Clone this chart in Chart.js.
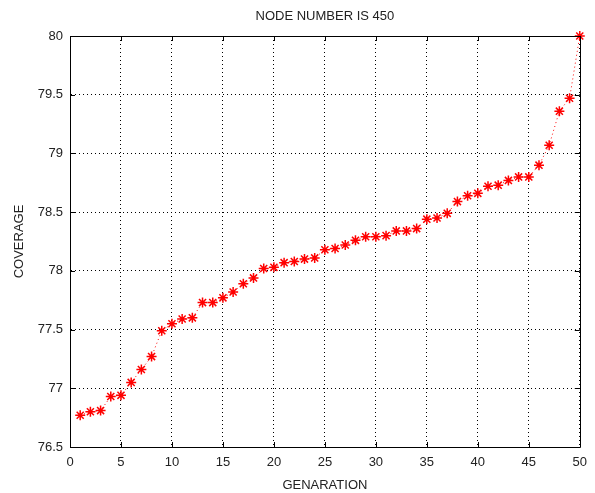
<!DOCTYPE html>
<html>
<head>
<meta charset="utf-8">
<script src="https://cdn.jsdelivr.net/npm/chart.js@4.4.1/dist/chart.umd.min.js"></script>
<style>
  html, body { margin: 0; padding: 0; background: #fff; }
  #wrap { width: 595px; height: 493px; }
</style>
</head>
<body>
<div id="wrap"><canvas id="c" width="595" height="493"></canvas></div>
<script>
const chartTitle = 'NODE NUMBER IS 450';
const xAxisTitle = 'GENARATION';
const yAxisTitle = 'COVERAGE';
const generations = [1,2,3,4,5,6,7,8,9,10,11,12,13,14,15,16,17,18,19,20,21,22,23,24,25,26,27,28,29,30,31,32,33,34,35,36,37,38,39,40,41,42,43,44,45,46,47,48,49,50];
const coverage = [76.77,76.80,76.81,76.93,76.94,77.05,77.16,77.27,77.49,77.55,
                  77.59,77.60,77.73,77.73,77.77,77.82,77.89,77.94,78.02,78.03,
                  78.07,78.08,78.10,78.11,78.18,78.19,78.22,78.26,78.29,78.29,
                  78.30,78.34,78.34,78.36,78.44,78.45,78.49,78.59,78.64,78.66,
                  78.72,78.73,78.77,78.80,78.80,78.90,79.07,79.36,79.47,80.00];
const xTickValues = [0,5,10,15,20,25,30,35,40,45,50];
const yTickValues = [76.5,77,77.5,78,78.5,79,79.5,80];

const points = generations.map((g, i) => ({ x: g, y: coverage[i] }));
const FONT = 'Liberation Sans, Arial, sans-serif';
const TEXT = '#222';

const boxTicks = {
  id: 'boxTicks',
  afterDraw(chart) {
    const { ctx, chartArea: a, scales: { x, y } } = chart;
    ctx.save();
    ctx.strokeStyle = '#000';
    ctx.lineWidth = 1;
    ctx.beginPath();
    ctx.rect(Math.round(a.left) + 0.5, Math.round(a.top) + 0.5,
             Math.round(a.right - a.left), Math.round(a.bottom - a.top));
    ctx.stroke();
    const L = 5;
    ctx.beginPath();
    x.ticks.forEach(t => {
      const px = Math.round(x.getPixelForValue(t.value)) + 0.5;
      ctx.moveTo(px, a.bottom); ctx.lineTo(px, a.bottom - L);
      ctx.moveTo(px, a.top); ctx.lineTo(px, a.top + L);
    });
    y.ticks.forEach(t => {
      const py = Math.round(y.getPixelForValue(t.value)) + 0.5;
      ctx.moveTo(a.left, py); ctx.lineTo(a.left + L, py);
      ctx.moveTo(a.right, py); ctx.lineTo(a.right - L, py);
    });
    ctx.stroke();
    ctx.restore();
  }
};

new Chart(document.getElementById('c'), {
  type: 'scatter',
  data: {
    datasets: [{
      data: points,
      showLine: true,
      borderColor: '#ff0000',
      borderWidth: 1,
      borderDash: [1, 3],
      pointStyle: 'star',
      pointRadius: 5,
      pointBorderColor: '#ff0000',
      pointBackgroundColor: '#ff0000',
      pointBorderWidth: 1.5,
      clip: false
    }]
  },
  options: {
    responsive: false,
    animation: false,
    devicePixelRatio: 1,
    layout: { padding: { left: 0, right: 10, top: 0, bottom: 0 } },
    plugins: {
      legend: { display: false },
      tooltip: { enabled: false },
      title: {
        display: true,
        text: chartTitle,
        fullSize: false,
        color: TEXT,
        font: { family: FONT, size: 13, weight: 'normal', lineHeight: 1.2 },
        padding: { top: 9, bottom: 11.4 }
      }
    },
    scales: {
      x: {
        type: 'linear',
        min: 0, max: 50,
        afterBuildTicks(s) { s.ticks = xTickValues.map(v => ({ value: v })); },
        afterFit(s) { s.height = 46; },
        grid: { color: '#000', lineWidth: 1, drawTicks: false },
        border: { display: true, color: '#000', dash: [1, 3] },
        ticks: { color: TEXT, padding: 8, font: { family: FONT, size: 13 }, maxRotation: 0,
                 callback: v => String(v) },
        title: { display: true, text: xAxisTitle, color: TEXT, font: { family: FONT, size: 13 }, padding: { top: 2, bottom: 0 } }
      },
      y: {
        type: 'linear',
        min: 76.5, max: 80,
        afterBuildTicks(s) { s.ticks = yTickValues.map(v => ({ value: v })); },
        afterFit(s) { s.width = 70; },
        grid: { color: '#000', lineWidth: 1, drawTicks: false },
        border: { display: true, color: '#000', dash: [1, 3] },
        ticks: { color: TEXT, padding: 7, font: { family: FONT, size: 13 },
                 callback: v => String(v) },
        title: { display: true, text: yAxisTitle, color: TEXT, font: { family: FONT, size: 13 }, padding: { top: 12, bottom: 0 } }
      }
    }
  },
  plugins: [boxTicks]
});
</script>
</body>
</html>
